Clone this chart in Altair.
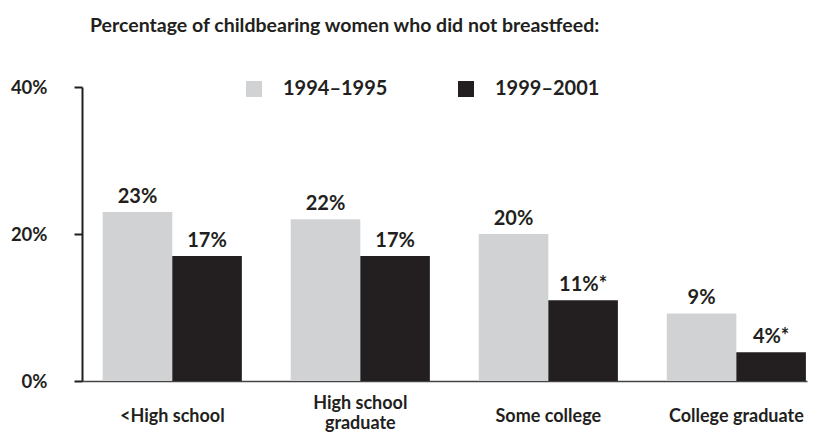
import altair as alt
import pandas as pd

categories = ["<High school", "High school\ngraduate", "Some college", "College graduate"]
periods = ["1994\u20131995", "1999\u20132001"]
values_1994 = [23, 22, 20, 9.2]
values_1999 = [17, 17, 11, 3.9]
labels_1994 = ["23%", "22%", "20%", "9%"]
labels_1999 = ["17%", "17%", "11%*", "4%*"]
colors = ["#d1d2d4", "#231f20"]

rows = []
for i, c in enumerate(categories):
    rows.append({"cat": c, "period": periods[0], "value": values_1994[i], "label": labels_1994[i]})
    rows.append({"cat": c, "period": periods[1], "value": values_1999[i], "label": labels_1999[i]})
df = pd.DataFrame(rows)
cat_df = pd.DataFrame({"cat": categories,
                       "zero": [0] * len(categories),
                       "nlines": [c.count("\n") + 1 for c in categories]})

FONT = "Lato"

x = alt.X("cat:N", sort=categories, title=None,
          scale=alt.Scale(paddingInner=0.26, paddingOuter=0.058, align=0.95),
          axis=alt.Axis(labels=False, ticks=False, domainColor="#444444", domainWidth=1.5))
xo = alt.XOffset("period:N", sort=periods, scale=alt.Scale(paddingInner=0, paddingOuter=0))
y = alt.Y("value:Q", title=None,
          scale=alt.Scale(domain=[0, 40], nice=False),
          axis=alt.Axis(values=[0, 20, 40], labelExpr="datum.value + '%'", grid=False,
                        labelFontSize=18.5, labelFont=FONT, labelFontWeight="bold", labelColor="#231f20",
                        domainColor="#231f20", domainWidth=2, tickColor="#231f20", tickWidth=2,
                        tickSize=8, labelPadding=27))
color = alt.Color("period:N", sort=periods, title=None,
                  scale=alt.Scale(domain=periods, range=colors),
                  legend=alt.Legend(orient="none", legendX=162, legendY=-8, direction="horizontal",
                                    symbolType="square", symbolSize=256, symbolStrokeWidth=0,
                                    labelFontSize=20, labelFont=FONT, labelFontWeight="bold",
                                    labelColor="#231f20", labelOffset=19, columnPadding=68))

base = alt.Chart(df)
bars = base.mark_bar(opacity=1).encode(x=x, xOffset=xo, y=y, color=color)
text = base.mark_text(baseline="bottom", dy=-5, fontSize=20, font=FONT, fontWeight="bold",
                      color="#231f20").encode(x=x, xOffset=xo, y=y, text="label:N")

cat_enc = dict(x=alt.X("cat:N", sort=categories), y=alt.Y("zero:Q"), text="cat:N")
cat_style = dict(baseline="middle", fontSize=18, font=FONT, fontWeight="bold",
                 color="#231f20", lineBreak="\n", lineHeight=20)
cat_single = alt.Chart(cat_df).transform_filter("datum.nlines == 1").mark_text(
    dy=36, **cat_style).encode(**cat_enc)
cat_multi = alt.Chart(cat_df).transform_filter("datum.nlines > 1").mark_text(
    dy=23, **cat_style).encode(**cat_enc)

chart = alt.layer(bars, text, cat_single, cat_multi).properties(
    width=725, height=294,
    title=alt.TitleParams("Percentage of childbearing women who did not breastfeed:",
                          anchor="start", frame="group", dx=8, offset=42, fontSize=19.5,
                          font=FONT, fontWeight="bold", color="#231f20"),
    padding={"left": 2, "top": 7, "right": 5, "bottom": 5},
    background="white",
).configure_view(strokeWidth=0)

chart.save("out.html", embed_options={"renderer": "svg", "actions": False})
